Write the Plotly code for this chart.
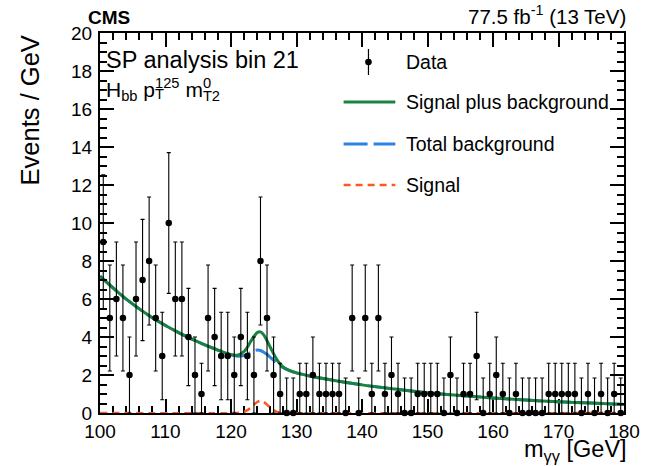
import numpy as np
import plotly.graph_objects as go

# Diphoton mass bins (1 GeV wide) and observed event counts per bin
bin_centers = [100.5 + i for i in range(80)]
counts = [
    9, 5, 6, 5, 2, 6, 7, 8, 5, 3,      # 100-110
    10, 6, 6, 4, 2, 1, 5, 4, 3, 3,     # 110-120
    2, 4, 3, 2, 8, 5, 2, 1, 0, 0,      # 120-130
    1, 1, 2, 1, 1, 1, 1, 0, 5, 0,      # 130-140
    5, 1, 5, 1, 2, 1, 0, 0, 1, 1,      # 140-150
    1, 1, 0, 2, 0, 1, 1, 3, 0, 1,      # 150-160
    2, 1, 0, 1, 0, 0, 0, 0, 1, 1,      # 160-170
    1, 1, 1, 0, 1, 0, 1, 0, 1, 0,      # 170-180
]

# Fitted model curves sampled along m_gg
curve_mass = [100, 104, 108, 112, 116, 118, 120, 121, 122, 122.5, 123, 123.5,
              124, 124.5, 125, 125.5, 126, 126.5, 127, 127.5, 128, 129, 130,
              132, 136, 140, 145, 150, 155, 160, 165, 170, 175, 180]
signal_plus_background = [7.20, 5.99, 5.01, 4.23, 3.58, 3.31, 3.07, 3.04, 3.24,
                          3.46, 3.76, 4.03, 4.23, 4.27, 4.11, 3.80, 3.46, 3.12,
                          2.81, 2.58, 2.41, 2.23, 2.11, 1.95, 1.70, 1.48, 1.26,
                          1.07, 0.92, 0.79, 0.68, 0.59, 0.52, 0.45]
total_background = [7.20, 5.99, 5.01, 4.23, 3.58, 3.31, 3.07, 2.99, 3.03, 3.09,
                    3.19, 3.27, 3.31, 3.29, 3.20, 3.09, 2.93, 2.78, 2.62, 2.49,
                    2.38, 2.22, 2.11, 1.95, 1.70, 1.48, 1.26, 1.07, 0.92, 0.79,
                    0.68, 0.59, 0.52, 0.45]
signal_mass = [100, 121, 121.5, 122, 122.5, 123, 123.5, 124, 124.5, 125, 125.5,
               126, 126.5, 127, 127.5, 128, 180]
signal = [0, 0, 0.02, 0.06, 0.15, 0.28, 0.44, 0.58, 0.64, 0.58, 0.44, 0.28,
          0.15, 0.06, 0.02, 0, 0]

x_ticks = [100, 110, 120, 130, 140, 150, 160, 170, 180]
y_ticks = [0, 2, 4, 6, 8, 10, 12, 14, 16, 18, 20]

GREEN = "#17833f"
BLUE = "#2b84e2"
ORANGE = "#ff5722"
FONT = "Liberation Sans, Arial, Helvetica, sans-serif"

# Plot-area geometry in pixels, used to place the labels and legend
W, H = 652, 466
L, R, T, B = 100, 25, 33, 53
PW, PH = W - L - R, H - T - B


def px_x(px):
    return (px - L) / PW


def px_y(py):
    return 1 - (py - T) / PH


# Poisson-style error bars on the counts
n = np.array(counts, dtype=float)
err = 0.5 + np.sqrt(n + 0.25)
err_up = np.where(n > 0, err, 1.84)
err_dn = np.minimum(np.where(n > 0, err, 0.0), n)

fig = go.Figure()

fig.add_trace(go.Scatter(
    x=signal_mass, y=signal, mode="lines",
    line=dict(color=ORANGE, width=2.5, dash="7px,5px", shape="spline", smoothing=0.6),
    showlegend=False,
))
fig.add_trace(go.Scatter(
    x=curve_mass, y=total_background, mode="lines",
    line=dict(color=BLUE, width=3, dash="24px,6px", shape="spline", smoothing=0.8),
    showlegend=False,
))
fig.add_trace(go.Scatter(
    x=curve_mass, y=signal_plus_background, mode="lines",
    line=dict(color=GREEN, width=3, shape="spline", smoothing=0.8),
    showlegend=False,
))
fig.add_trace(go.Scatter(
    x=bin_centers, y=counts, mode="markers",
    marker=dict(color="black", size=6.5),
    error_y=dict(type="data", symmetric=False, array=err_up, arrayminus=err_dn,
                 color="black", thickness=1.1, width=2),
    showlegend=False, cliponaxis=False,
))

axis_common = dict(
    showline=True, linecolor="black", linewidth=2, mirror="ticks",
    ticks="inside", tickcolor="black", tickwidth=1.5,
    showgrid=False, zeroline=False,
    tickfont=dict(family=FONT, size=19, color="black"),
)
fig.update_xaxes(range=[100, 180], tickvals=x_ticks, ticklen=14,
                 layer="below traces",
                 minor=dict(dtick=2, tick0=100, ticklen=7, ticks="inside",
                            tickcolor="black", tickwidth=1.5),
                 **axis_common)
fig.update_yaxes(range=[0, 20], tickvals=y_ticks, ticklen=14,
                 ticklabelstandoff=2,
                 minor=dict(dtick=0.5, tick0=0, ticklen=7, ticks="inside",
                            tickcolor="black", tickwidth=1.5),
                 **axis_common)

annotations = [
    dict(text="<b>CMS</b>", x=px_x(86), y=px_y(17), xanchor="left", yanchor="middle",
         font=dict(size=19)),
    dict(text="77.5 fb<sup>-1</sup> (13 TeV)", x=px_x(631), y=px_y(15), xanchor="right",
         yanchor="middle", font=dict(size=20.5)),
    dict(text="SP analysis bin 21", x=px_x(104), y=px_y(60), xanchor="left",
         yanchor="middle", font=dict(size=23.5)),
    dict(text="Events / GeV", x=px_x(30), y=1.0, xanchor="center", yanchor="top",
         textangle=-90, font=dict(size=25.5)),
    dict(text="m<sub>γγ</sub> [GeV]", x=px_x(632), y=px_y(450), xanchor="right",
         yanchor="middle", font=dict(size=23.5)),
]

# Kinematic label with stacked sub/superscripts
hide = "<span style='color:rgba(0,0,0,0)'>{}</span>"
lab_x, lab_y, lab_size = px_x(104), px_y(89), 21
annotations += [
    dict(text="H<sub>bb</sub> p<sup>125</sup> m<sup>0</sup>", x=lab_x, y=lab_y,
         xanchor="left", yanchor="middle", font=dict(size=lab_size)),
    dict(text=hide.format("H<sub>bb</sub> p") + "<sub>T</sub>", x=lab_x, y=lab_y,
         xanchor="left", yanchor="middle", font=dict(size=lab_size)),
    dict(text=hide.format("H<sub>bb</sub> p<sup>125</sup> m") + "<sub>T2</sub>",
         x=lab_x, y=lab_y, xanchor="left", yanchor="middle", font=dict(size=lab_size)),
]

# Legend
leg_x0, leg_x1, leg_text, leg_mark = px_x(345), px_x(397), px_x(406), px_x(370)
rows = [px_y(62), px_y(102), px_y(144), px_y(185)]
labels = ["Data", "Signal plus background", "Total background", "Signal"]
for yy, lab in zip(rows, labels):
    annotations.append(dict(text=lab, x=leg_text, y=yy, xanchor="left",
                            yanchor="middle", font=dict(size=19.5)))

shapes = [
    dict(type="line", xref="paper", yref="paper", xsizemode="pixel", ysizemode="pixel",
         xanchor=leg_mark, yanchor=rows[0], x0=0, x1=0, y0=-13, y1=13,
         line=dict(color="black", width=1.2)),
    dict(type="circle", xref="paper", yref="paper", xsizemode="pixel", ysizemode="pixel",
         xanchor=leg_mark, yanchor=rows[0], x0=-3.3, x1=3.3, y0=-3.3, y1=3.3,
         fillcolor="black", line=dict(color="black", width=0)),
    dict(type="line", xref="paper", yref="paper", x0=leg_x0, x1=leg_x1,
         y0=rows[1], y1=rows[1], line=dict(color=GREEN, width=3)),
    dict(type="line", xref="paper", yref="paper", x0=leg_x0, x1=leg_x1,
         y0=rows[2], y1=rows[2], line=dict(color=BLUE, width=3, dash="24px,6px")),
    dict(type="line", xref="paper", yref="paper", x0=leg_x0, x1=leg_x1,
         y0=rows[3], y1=rows[3], line=dict(color=ORANGE, width=2.5, dash="7px,5px")),
]

for a in annotations:
    a.setdefault("xref", "paper")
    a.setdefault("yref", "paper")
    a["showarrow"] = False
    a["font"] = dict(family=FONT, color="black", **a["font"])

fig.update_layout(
    width=W, height=H,
    margin=dict(l=L, r=R, t=T, b=B),
    paper_bgcolor="white", plot_bgcolor="white",
    annotations=annotations, shapes=shapes,
    font=dict(family=FONT, color="black"),
)

fig.write_html("out.html")
